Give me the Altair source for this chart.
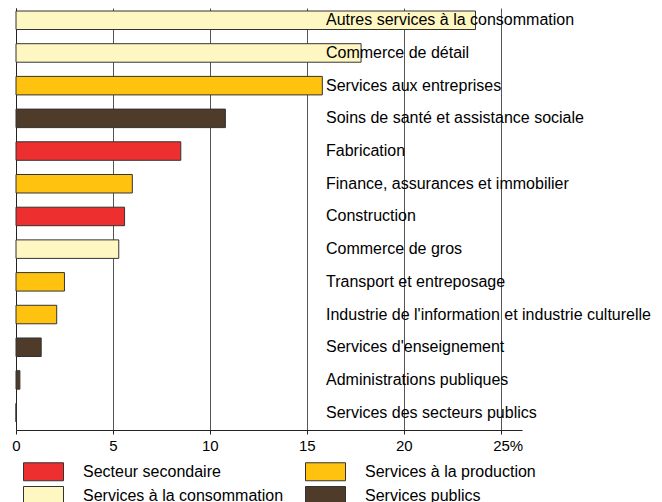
import altair as alt
import pandas as pd

categories = [
    "Autres services à la consommation",
    "Commerce de détail",
    "Services aux entreprises",
    "Soins de santé et assistance sociale",
    "Fabrication",
    "Finance, assurances et immobilier",
    "Construction",
    "Commerce de gros",
    "Transport et entreposage",
    "Industrie de l'information et industrie culturelle",
    "Services d'enseignement",
    "Administrations publiques",
    "Services des secteurs publics",
]
values = [23.7, 17.8, 15.8, 10.8, 8.5, 6.0, 5.6, 5.3, 2.5, 2.1, 1.3, 0.2, 0.0]
groups = [
    "Services à la consommation",
    "Services à la consommation",
    "Services à la production",
    "Services publics",
    "Secteur secondaire",
    "Services à la production",
    "Secteur secondaire",
    "Services à la consommation",
    "Services à la production",
    "Services à la production",
    "Services publics",
    "Services publics",
    "Services publics",
]
# legend is filled column by column
legend_order = [
    "Secteur secondaire",
    "Services à la consommation",
    "Services à la production",
    "Services publics",
]
colors = ["#ed2f2f", "#fff7c2", "#ffc20e", "#4e3b29"]
tick_values = [0, 5, 10, 15, 20, 25]

df = pd.DataFrame({"cat": categories, "val": values, "grp": groups})

FONT = "Liberation Sans, Arial, sans-serif"

y_enc = alt.Y(
    "cat:N",
    sort=categories,
    scale=alt.Scale(paddingInner=0.434, paddingOuter=0.17, align=0.27),
    axis=alt.Axis(labels=False, ticks=False, title=None, grid=False,
                  domain=True, domainColor="#222", domainWidth=1),
)

x_enc = alt.X(
    "val:Q",
    scale=alt.Scale(domain=[0, 26.1], nice=False, zero=True),
    axis=alt.Axis(
        values=tick_values,
        labelExpr="datum.value == 25 ? '25%' : datum.label",
        grid=True, gridColor="#555", gridWidth=1,
        domainColor="#222", tickColor="#222", tickSize=4,
        labelFontSize=15, labelFont=FONT, labelColor="black",
        labelPadding=4, labelFlush=False, title=None,
        labelAlign={"condition": {"test": "datum.value == 25", "value": "left"}, "value": "center"},
        labelOffset={"condition": {"test": "datum.value == 25", "value": -8}, "value": 0},
    ),
)

bars = alt.Chart(df).mark_bar(stroke="#333", strokeWidth=1).encode(
    x=x_enc,
    y=y_enc,
    color=alt.Color(
        "grp:N",
        scale=alt.Scale(domain=legend_order, range=colors),
        legend=alt.Legend(
            orient="none", legendX=7, legendY=453, columns=2, title=None,
            symbolType="M-2,-0.9H2V0.9H-2Z", symbolSize=400, symbolOffset=10,
            symbolStrokeColor="#333", symbolStrokeWidth=1, symbolOpacity=1,
            labelFontSize=16, labelFont=FONT, labelColor="black", labelLimit=400,
            labelOffset=29, columnPadding=19, rowPadding=1, padding=0,
        ),
    ),
)

labels = alt.Chart(df).mark_text(
    align="left", baseline="middle", fontSize=16, font=FONT, color="black"
).encode(
    y=alt.Y("cat:N", sort=categories),
    x=alt.value(310),
    text="cat:N",
)

chart = alt.layer(bars, labels).properties(
    width=506, height=422,
    autosize=alt.AutoSizeParams(type="none"),
    padding={"left": 8, "top": 0, "right": 132, "bottom": 72},
    background="white",
).configure_view(stroke=None)

chart.save("out.html", embed_options={"renderer": "svg", "actions": False})
